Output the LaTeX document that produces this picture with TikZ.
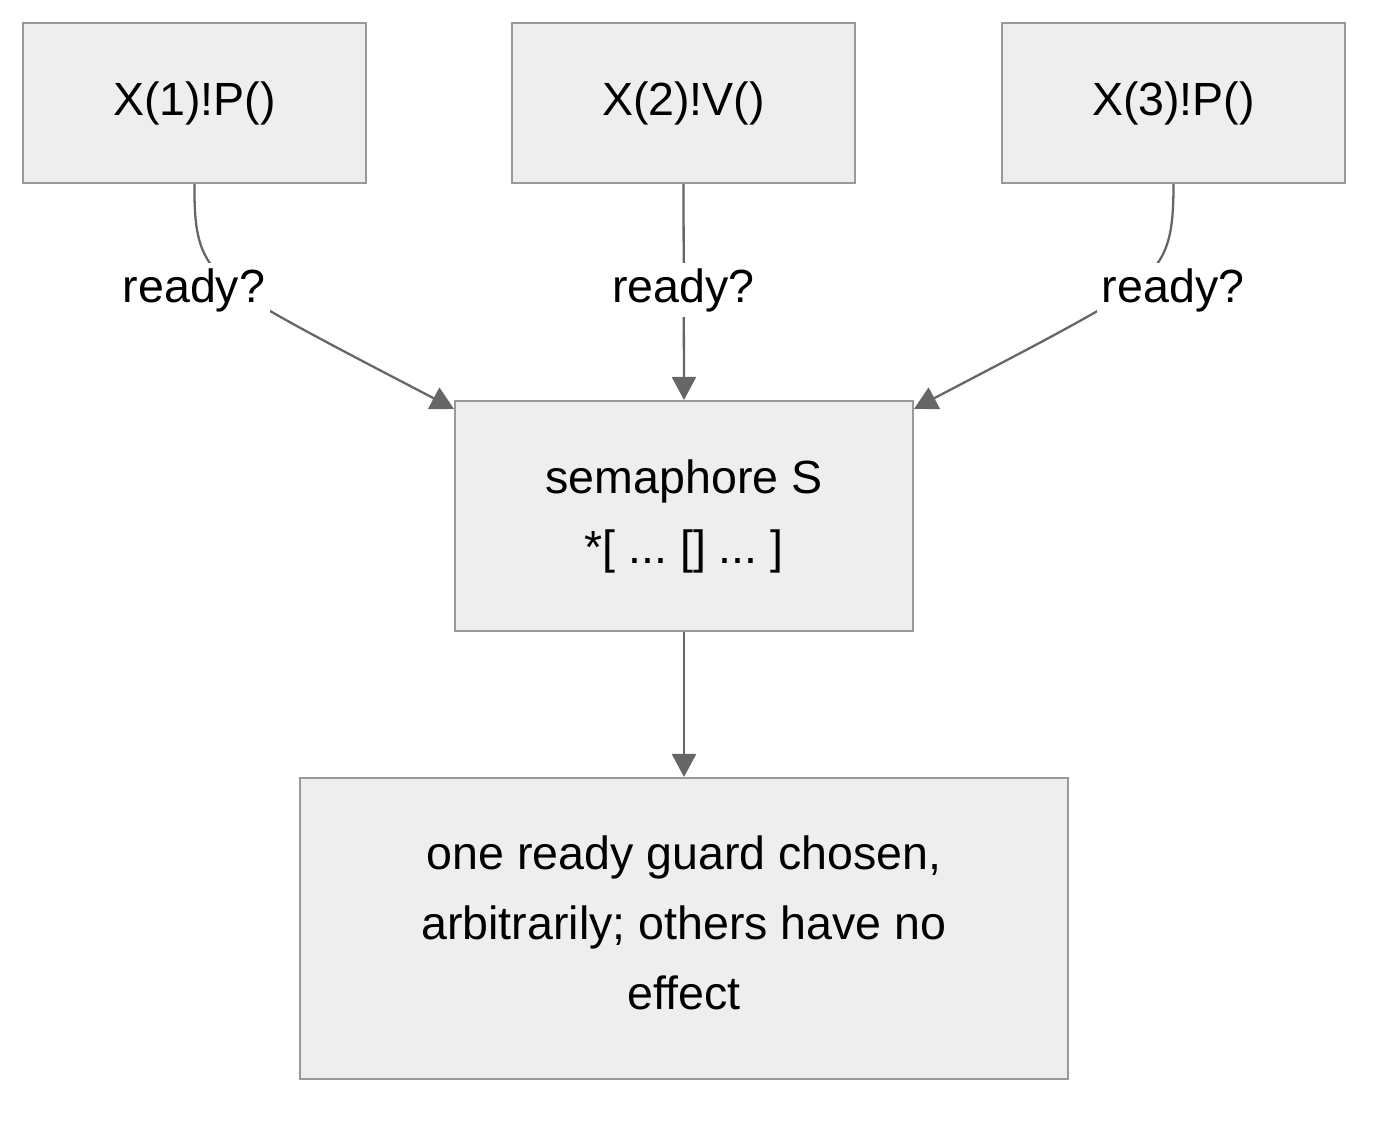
\documentclass[tikz,border=0pt]{standalone}
\usepackage{fontspec}
\setmainfont{Liberation Sans}
\usetikzlibrary{arrows.meta}
\definecolor{boxfill}{HTML}{EEEEEE}
\definecolor{boxline}{HTML}{999999}
\definecolor{edgeline}{HTML}{666666}
\frenchspacing

\begin{document}
\begin{tikzpicture}[x=0.02cm, y=-0.02cm]
        \tikzstyle{every node}=[font=\fontsize{26.5}{39.8}\selectfont]
        \tikzstyle{box}=[draw=boxline, fill=boxfill, line width=1.2pt, align=center]
        \tikzstyle{lbl}=[fill=white, inner sep=3pt]
        \tikzstyle{flow}=[draw=edgeline, line width=1.3pt, -{Triangle[length=0.46cm,width=0.48cm]}]
        \useasboundingbox (0,0) rectangle (1392,1122);
        % the three callers
        \node [box, minimum width=6.86cm, minimum height=3.2cm] (x1) at (194.5,103) {X(1)!P()};
        \node [box, minimum width=6.86cm, minimum height=3.2cm] (x2) at (683.5,103) {X(2)!V()};
        \node [box, minimum width=6.86cm, minimum height=3.2cm] (x3) at (1173.5,103) {X(3)!P()};
        \node [box, minimum width=9.16cm, minimum height=4.6cm] (sem) at (684,516) {semaphore S\\*[ ... [] ... ]};
        \node [box, minimum width=15.36cm, minimum height=6.02cm, text depth=0.25cm] (pick) at (684,928.5) {one ready guard chosen,\\arbitrarily; others have no\\effect};
        % edges
        \draw [flow] (x1.south) .. controls (194,240) and (200,262) .. (237,290) .. controls (262,310) and (380,370) .. ([yshift=-0.18cm]sem.north west);
        \draw [flow] (x2.south) -- (sem.north);
        \draw [flow] (x3.south) .. controls (1173.5,240) and (1167.5,262) .. (1130.5,290) .. controls (1105.5,310) and (987.5,370) .. ([yshift=-0.18cm]sem.north east);
        \draw [flow] (sem.south) -- (pick.north);
        % labels on top of the edges
        \node [lbl] (r1) at (194,290) {ready?};
        \node [lbl] (r2) at (683.5,290) {ready?};
        \node [lbl] (r3) at (1173,290) {ready?};
\end{tikzpicture}
\end{document}
